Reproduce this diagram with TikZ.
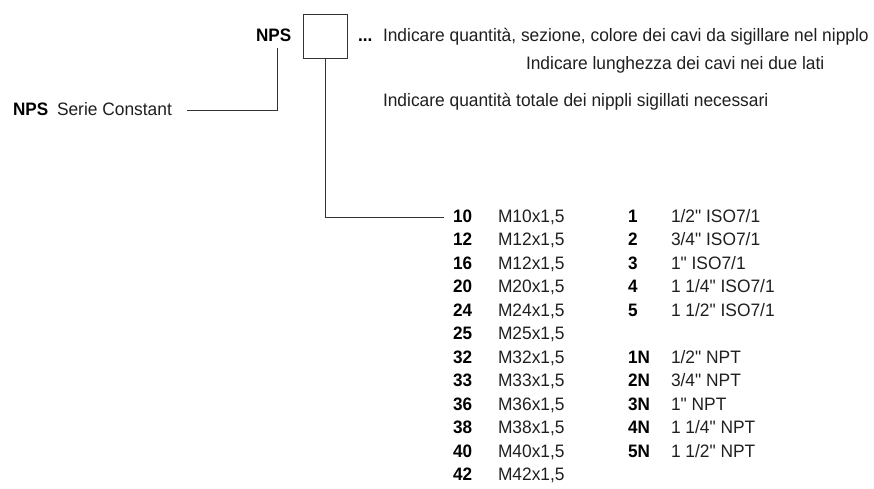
\documentclass[tikz,border=0pt]{standalone}
\usepackage{fontspec}
\newfontfamily\cond[FakeStretch=0.965]{Liberation Sans}
\newfontfamily\condb[FakeStretch=0.95]{Liberation Sans Bold}
\begin{document}
\begin{tikzpicture}[x=1pt,y=-1pt,
  txt/.style={anchor=base west,inner sep=0pt,outer sep=0pt,font=\cond\fontsize{18}{18}\selectfont,text=black!88},
  bld/.style={txt,font=\condb\fontsize{18}{18}\selectfont,text=black},
  ln/.style={line width=0.9pt,draw=black!80}]
\useasboundingbox (0,0) rectangle (874,489);
% header
\node[bld] (nps) at (256,42) {NPS};
\node[draw=black!80,line width=0.9pt,minimum width=44pt,minimum height=44pt,inner sep=0pt,anchor=north west] (box) at (303,14) {};
\node[bld] (dots) at (358,42) {...};
\node[txt] (t1) at (383,42) {Indicare quantità, sezione, colore dei cavi da sigillare nel nipplo};
\node[txt] (t2) at (526,70) {Indicare lunghezza dei cavi nei due lati};
\node[txt] (t3) at (383,107) {Indicare quantità totale dei nippli sigillati necessari};
% serie
\node[bld] (nps2) at (13,116) {NPS};
\node[txt] (serie) at (57,116) {Serie Constant};
\coordinate (c1) at (187,110);
\coordinate (c2) at (277,110);
\coordinate (c3) at (277,48);
\draw[ln] (c1) -- (c2) -- (c3);
% second leader
\coordinate (d2) at (326,217);
\coordinate (d3) at (444,217);
\draw[ln] (box.south) -- (box.south |- d2) -- (d3);
% table left
\foreach \c/\v [count=\i from 0] in {10/{M10x1,5},12/{M12x1,5},16/{M12x1,5},20/{M20x1,5},24/{M24x1,5},25/{M25x1,5},32/{M32x1,5},33/{M33x1,5},36/{M36x1,5},38/{M38x1,5},40/{M40x1,5},42/{M42x1,5}}{
  \node[bld] (lc\i) at (453,222+23.5*\i) {\c};
  \node[txt] (lv\i) at (498,222+23.5*\i) {\v};
}
% table right
\foreach \c/\v [count=\i from 0] in {1/{1/2" ISO7/1},2/{3/4" ISO7/1},3/{1" ISO7/1},4/{1 1/4" ISO7/1},5/{1 1/2" ISO7/1}}{
  \node[bld] (rc\i) at (628,222+23.5*\i) {\c};
  \node[txt] (rv\i) at (671,222+23.5*\i) {\v};
}
\foreach \c/\v [count=\i from 6] in {1N/{1/2" NPT},2N/{3/4" NPT},3N/{1" NPT},4N/{1 1/4" NPT},5N/{1 1/2" NPT}}{
  \node[bld] (rc\i) at (628,222+23.5*\i) {\c};
  \node[txt] (rv\i) at (671,222+23.5*\i) {\v};
}
\end{tikzpicture}
\end{document}
